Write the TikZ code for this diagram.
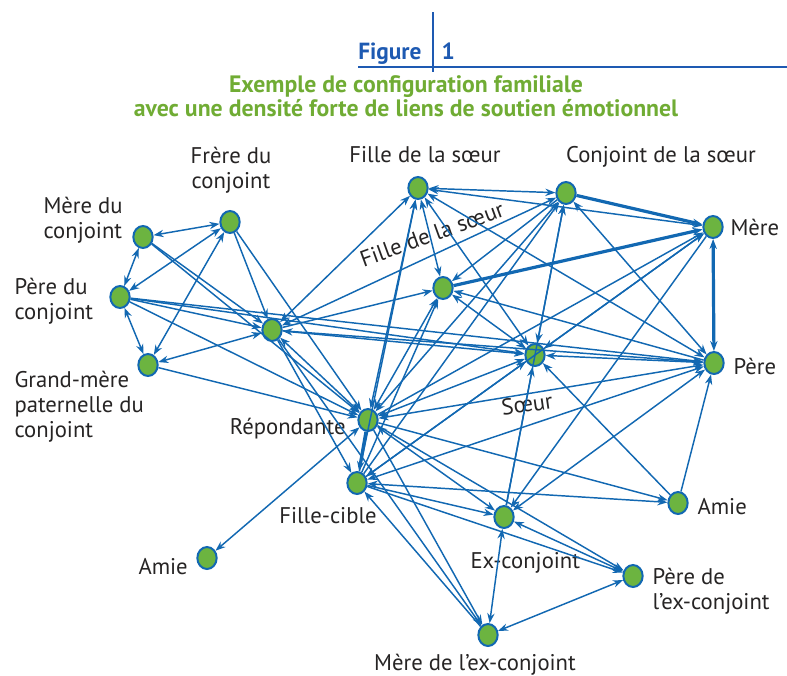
\documentclass[tikz,border=0pt]{standalone}
\usepackage{fontspec}
\setmainfont{PT Sans}
\usetikzlibrary{arrows.meta,shapes.geometric}

\definecolor{lienbleu}{RGB}{18,104,178}
\definecolor{persvert}{RGB}{108,180,64}
\definecolor{titrebleu}{RGB}{30,90,178}
\definecolor{titrevert}{RGB}{112,172,52}
\definecolor{texte}{RGB}{38,36,36}

\tikzset{every picture/.style={line width=0.75pt}}
\tikzset{
  pers/.style={ellipse, draw=lienbleu, fill=persvert, line width=1.5pt,
    minimum width=14.5pt, minimum height=16.5pt, inner sep=0pt},
  lien/.style={draw=lienbleu, line width=1.1pt, -{Stealth[length=7.5pt,width=5.5pt]}},
  lienbi/.style={draw=lienbleu, line width=1.1pt,
    {Stealth[length=7.5pt,width=5.5pt]}-{Stealth[length=7.5pt,width=5.5pt]}},
  fort/.style={line width=2.4pt},
  etiq/.style={text=texte, font=\fontsize{17}{18.75}\selectfont, inner sep=0pt},
  titre/.style={text=titrebleu, font=\fontsize{17.5}{20}\selectfont\bfseries, inner sep=0pt},
  soustitre/.style={text=titrevert, font=\fontsize{17.8}{20}\selectfont\bfseries, inner sep=0pt},
}

\begin{document}
\begin{tikzpicture}[x=0.75pt,y=0.75pt,yscale=-1,xscale=1]
\useasboundingbox (0,0) rectangle (787,675);

%Shape: title rules
\draw[titrebleu, line width=0.9pt] (433,12) -- (433,72);
\draw[titrebleu, line width=0.9pt] (358,67) -- (787,67);

% Text Node
\node[titre, anchor=base east] (fig) at (422,59) {Figure};
\node[titre, anchor=base west] (num) at (441,59) {1};
\node[soustitre, anchor=base] (st1) at (406,92) {Exemple de configuration familiale};
\node[soustitre, anchor=base] (st2) at (406,116) {avec une densité forte de liens de soutien émotionnel};

% Persons
\node[pers] (fc) at (230,222) {};
\node[pers] (mc) at (143,237) {};
\node[pers] (pc) at (120,297) {};
\node[pers] (gm) at (148,365) {};
\node[pers] (cj) at (272,330) {};
\node[pers] (fs1) at (418,188) {};
\node[pers] (cs) at (566,193) {};
\node[pers] (me) at (713,227) {};
\node[pers] (fs2) at (443,288) {};
\node[pers] (so) at (535,355) {};
\node[pers] (pe) at (714,363) {};
\node[pers] (re) at (368,420) {};
\node[pers] (fi) at (357,483) {};
\node[pers] (amL) at (207,558) {};
\node[pers] (ex) at (504,517) {};
\node[pers] (amR) at (678,503) {};
\node[pers] (pex) at (633,576) {};
\node[pers] (mex) at (488,635) {};

% Text Node
\node[etiq, align=center, anchor=north] (lfc) at (231,147) {Frère du\\conjoint};
\node[etiq, align=left, anchor=north west] (lmc) at (43,197) {Mère du\\conjoint};
\node[etiq, align=left, anchor=north west] (lpc) at (14,278) {Père du\\conjoint};
\node[etiq, align=left, anchor=north west] (lgm) at (14,371) {Grand-mère\\paternelle du\\conjoint};
\node[etiq, anchor=north] (lfs1) at (425,146) {Fille de la sœur};
\node[etiq, anchor=north] (lcs) at (661,146) {Conjoint de la sœur};
\node[etiq, anchor=west] (lme) at (730,227) {Mère};
\node[etiq, anchor=west] (lpe) at (733,366) {Père};
\node[etiq, rotate=20] (lfs2) at (432,234) {Fille de la sœur};
\node[etiq, rotate=8] (lso) at (527,404) {Sœur};
\node[etiq, anchor=base east] (lre) at (346,434) {Répondante};
\node[etiq, anchor=base] (lfi) at (328,523) {Fille-cible};
\node[etiq, anchor=base west] (lamL) at (138,574) {Amie};
\node[etiq, anchor=base west] (lamR) at (697,514) {Amie};
\node[etiq, anchor=base west] (lex) at (470,568) {Ex-conjoint};
\node[etiq, align=left, anchor=north west] (lpex) at (652,568) {Père de\\l’ex-conjoint};
\node[etiq, anchor=base] (lmex) at (475,670) {Mère de l’ex-conjoint};

% Connection: famille du conjoint
\draw[lienbi] (mc) -- (fc);
\draw[lienbi] (mc) -- (pc);
\draw[lienbi] (pc) -- (fc);
\draw[lienbi] (fc) -- (gm);
\draw[lienbi] (pc) -- (gm);
\draw[lienbi] (gm) -- (cj);
\draw[lien] (fc) -- (cj);
\draw[lien] (fc) -- (re);
\draw[lien] (mc) -- (cj);
\draw[lien] (mc) -- (re);
\draw[lien] (pc) -- (cj);
\draw[lien] (pc) -- (so);
\draw[lien] (pc) -- (pe);
\draw[lien] (pc) -- (re);
\draw[lien] (gm) -- (re);

% Connection
\draw[lienbi] (cj) -- (fs1);
\draw[lien] (cj) -- (fs2);
\draw[lienbi] (cj) -- (so);
\draw[lienbi] (cj) -- (cs);
\draw[lien] (cj) -- (pe);
\draw[lienbi] (cj) -- (re);
\draw[lien] (cj) -- (fi);
\draw[lien] (cj) -- (mex);

% Connection
\draw[lienbi] (fs1) -- (fs2);
\draw[lienbi] (fs1) -- (cs);
\draw[lienbi] (fs1) -- (me);
\draw[lienbi] (fs1) -- (so);
\draw[lienbi] (fs1) -- (pe);
\draw[lienbi] (re) -- (fs1);
\draw[lien] (fi) -- (fs1);

% Connection
\draw[lien, fort] (fs2) -- (me);
\draw[lien] (cs) -- (fs2);
\draw[lienbi] (fs2) -- (so);
\draw[lien] (pe) -- (fs2);
\draw[lienbi] (re) -- (fs2);
\draw[lien] (fi) -- (fs2);

% Connection
\draw[lien, fort] (cs) -- (me);
\draw[lienbi] (cs) -- (so);
\draw[lienbi] (cs) -- (pe);
\draw[lienbi] (re) -- (cs);
\draw[lien] (fi) -- (cs);
\draw[lien] (ex) -- (cs);

% Connection
\draw[lienbi, fort] (me) -- (pe);
\draw[lienbi] (me) -- (so);
\draw[lien] (re) -- (me);
\draw[lien] (fi) -- (me);
\draw[lien] (me) -- (ex);

% Connection
\draw[lienbi] (so) -- (pe);
\draw[lienbi] (re) -- (so);
\draw[lienbi] (fi) -- (so);
\draw[lien] (ex) -- (so);
\draw[lien] (amR) -- (so);

% Connection
\draw[lienbi] (re) -- (pe);
\draw[lienbi] (fi) -- (pe);
\draw[lienbi] (ex) -- (pe);
\draw[lien] (amR) -- (pe);

% Connection
\draw[lien, fort] (re) -- (fi);
\draw[lienbi] (re) -- (ex);
\draw[lien] (re) -- (pex);
\draw[lien] (re) -- (mex);
\draw[lien] (re) -- (amR);
\draw[lienbi] (re) -- (amL);

% Connection
\draw[lien] (fi) -- (ex);
\draw[lienbi] (fi) -- (amR);
\draw[lien] (fi) -- (pex);
\draw[lien] (mex) -- (fi);

% Connection
\draw[lienbi] (ex) -- (mex);
\draw[lienbi] (ex) -- (pex);
\draw[lienbi] (pex) -- (mex);

\end{tikzpicture}
\end{document}
